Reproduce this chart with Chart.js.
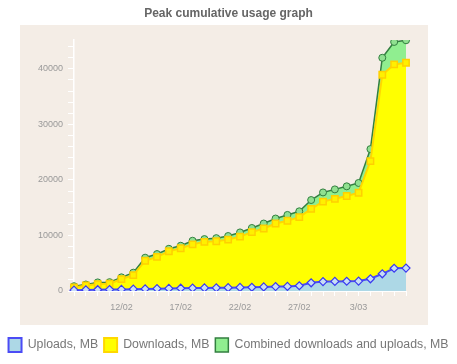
<!DOCTYPE html>
<html>
<head>
<meta charset="utf-8">
<script src="https://cdn.jsdelivr.net/npm/chart.js@4.4.1/dist/chart.umd.min.js"></script>
<style>
  body { margin: 0; background: #fff; }
  canvas { display: block; }
</style>
</head>
<body>
<canvas id="myChart" width="457" height="364"></canvas>
<script>
// days on the x axis (leap year, so 29/02 is there)
const days = ['8/02','9/02','10/02','11/02','12/02','13/02','14/02','15/02','16/02','17/02',
  '18/02','19/02','20/02','21/02','22/02','23/02','24/02','25/02','26/02','27/02',
  '28/02','29/02','1/03','2/03','3/03','4/03','5/03','6/03','7/03'];
const shownDays = ['12/02','17/02','22/02','27/02','3/03'];
const yLabels = [0, 10000, 20000, 30000, 40000];
const yMinorStep = 2000;

const uploads = [150, 200, 230, 260, 290, 330, 380, 420, 460, 500, 530, 550, 570, 600, 640,
  680, 730, 800, 820, 950, 1480, 1700, 1720, 1760, 1790, 2200, 3100, 4100, 4120];
const downloads = [650, 1000, 1250, 1300, 2150, 2850, 5450, 6150, 7150, 7700, 8400, 8850, 8950, 9250, 9800,
  10600, 11250, 12150, 12650, 13300, 14800, 16100, 16600, 17100, 17700, 23400, 38950, 40800, 41100];
const combined = [860, 1170, 1550, 1590, 2460, 3300, 6000, 6650, 7600, 8150, 9050, 9350, 9520, 9900, 10550,
  11350, 12150, 13050, 13700, 14350, 16380, 17750, 18300, 18850, 19450, 25550, 42000, 44850, 45150];

// beige panel behind the plot and the axes
const panel = {
  id: 'panel',
  beforeDraw(chart) {
    const c = chart.ctx, a = chart.chartArea;
    c.save();
    c.fillStyle = '#F4EDE6';
    c.fillRect(20, a.top - 15, a.right + 22 - 20, a.bottom + 34 - (a.top - 15));
    c.restore();
  }
};

new Chart(document.getElementById('myChart'), {
  type: 'line',
  data: {
    labels: days,
    datasets: [
      {
        label: 'Uploads, MB',
        data: uploads,
        fill: 'origin',
        backgroundColor: '#ADD8E6',
        borderColor: '#4B4BF5',
        borderWidth: 2,
        pointStyle: 'rectRot',
        pointRadius: 4,
        pointBackgroundColor: '#C8DDF5',
        pointBorderColor: '#3A3AF0',
        pointBorderWidth: 1.2
      },
      {
        label: 'Downloads, MB',
        data: downloads,
        fill: 'origin',
        backgroundColor: '#FFFF00',
        borderColor: '#FFD800',
        borderWidth: 2,
        pointStyle: 'rect',
        pointRadius: 4.5,
        pointBackgroundColor: '#FFF000',
        pointBorderColor: '#FFD000',
        pointBorderWidth: 1.5
      },
      {
        label: 'Combined downloads and uploads, MB',
        data: combined,
        fill: 'origin',
        backgroundColor: '#90EE90',
        borderColor: '#337F40',
        borderWidth: 1.5,
        pointStyle: 'circle',
        pointRadius: 3.5,
        pointBackgroundColor: '#90E090',
        pointBorderColor: '#337F40',
        pointBorderWidth: 1
      }
    ]
  },
  options: {
    responsive: false,
    animation: false,
    layout: { padding: { bottom: 2 } },
    elements: { line: { tension: 0 } },
    plugins: {
      title: {
        display: true,
        text: 'Peak cumulative usage graph',
        color: '#666',
        font: { family: 'Liberation Sans, Arial, sans-serif', size: 12, weight: 'bold' },
        padding: { top: 6, bottom: 19.6 }
      },
      legend: {
        position: 'bottom',
        labels: {
          color: '#777',
          font: { family: 'Liberation Sans, Arial, sans-serif', size: 12.3 },
          boxWidth: 13,
          boxHeight: 14,
          padding: 6
        }
      },
      tooltip: { enabled: false }
    },
    scales: {
      x: {
        offset: false,
        afterFit(s) { s.height = 41; },
        grid: { drawOnChartArea: false, color: '#fff', tickColor: '#fff', tickLength: 5 },
        border: { color: '#fff', width: 1 },
        ticks: {
          autoSkip: false,
          maxRotation: 0,
          padding: 6,
          color: '#999',
          font: { family: 'Liberation Sans, Arial, sans-serif', size: 9 },
          callback(v) { const d = days[v]; return shownDays.includes(d) ? d : ''; }
        }
      },
      y: {
        min: 0,
        max: 45200,
        afterFit(s) { s.width = 74; },
        // labelled ticks every 10000 with small marks between them
        afterBuildTicks(s) {
          const t = [];
          for (let v = 0; v <= s.max; v += yMinorStep) t.push({ value: v });
          s.ticks = t;
        },
        grid: { drawOnChartArea: false, color: '#fff', tickColor: '#fff', tickLength: 6 },
        border: { color: '#fff', width: 1.5 },
        ticks: {
          autoSkip: false,
          padding: 5,
          color: '#999',
          font: { family: 'Liberation Sans, Arial, sans-serif', size: 9 },
          callback(v) {
            const m = yLabels.find(t => Math.abs(t - v) < 1);
            return m !== undefined ? String(m) : '';
          }
        }
      },
      // empty axis that only keeps room on the right of the plot
      spacer: {
        type: 'linear',
        position: 'right',
        display: true,
        afterFit(s) { s.width = 51; },
        grid: { display: false },
        border: { display: false },
        ticks: { display: false }
      }
    }
  },
  plugins: [panel]
});
</script>
</body>
</html>
